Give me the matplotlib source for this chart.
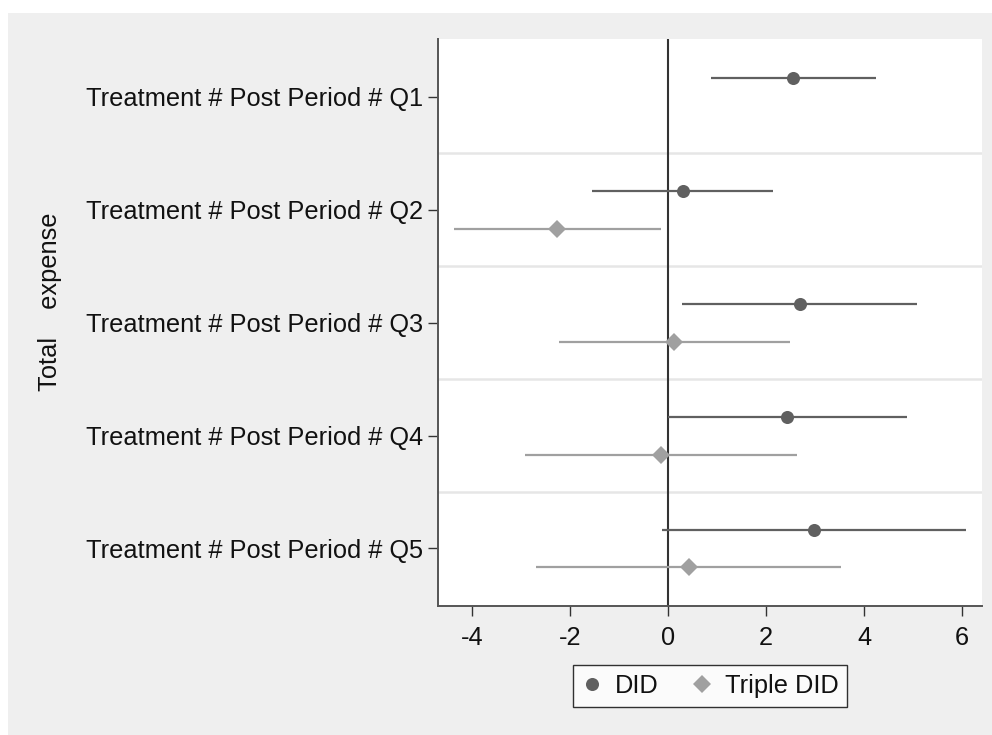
import matplotlib.pyplot as plt
import numpy as np
from matplotlib.lines import Line2D
from matplotlib.patches import Rectangle

plt.rcParams['font.family'] = ['Liberation Sans', 'DejaVu Sans']

labels = ['Treatment # Post Period # Q1', 'Treatment # Post Period # Q2',
          'Treatment # Post Period # Q3', 'Treatment # Post Period # Q4',
          'Treatment # Post Period # Q5']

# DID estimates and 95% CI
did_pos = [1, 2, 3, 4, 5]
did_est = [2.55, 0.31, 2.70, 2.42, 2.97]
did_lo = [0.88, -1.55, 0.28, 0.01, -0.12]
did_hi = [4.25, 2.15, 5.09, 4.87, 6.09]

# Triple DID (no Q1 term)
tri_pos = [2, 3, 4, 5]
tri_est = [-2.26, 0.12, -0.14, 0.42]
tri_lo = [-4.37, -2.22, -2.91, -2.70]
tri_hi = [-0.14, 2.48, 2.64, 3.53]

xticks = [-4, -2, 0, 2, 4, 6]

did_col = '#606060'
tri_col = '#a0a0a0'
bg = '#efefef'
off = 0.168
fs = 18.3

fig = plt.figure(figsize=(9.92, 7.35), dpi=100, facecolor='white')
fig.patches.append(Rectangle((8 / 992, 0), 1, 1 - 13 / 735, transform=fig.transFigure,
                             facecolor=bg, edgecolor='none', zorder=-10))

ax = fig.add_axes([438 / 992, 1 - 605.5 / 735, 544 / 992, 566.2 / 735])
ax.set_facecolor('white')

for y in [1.5, 2.5, 3.5, 4.5]:
    ax.axhline(y, color='#e6e6e6', lw=1.8, zorder=1)
ax.axvline(0, color='#333333', lw=1.5, zorder=2)

y_did = np.array(did_pos) - off
ax.hlines(y_did, did_lo, did_hi, color=did_col, lw=1.6, zorder=3)
ax.plot(did_est, y_did, 'o', color=did_col, ms=9.4, mew=0, zorder=4)

y_tri = np.array(tri_pos) + off
ax.hlines(y_tri, tri_lo, tri_hi, color=tri_col, lw=1.6, zorder=3)
ax.plot(tri_est, y_tri, 'D', color=tri_col, ms=9.2, mew=0, zorder=4)

ax.set_xlim(-4.694, 6.408)
ax.set_ylim(5.505, 0.49)
ax.set_xticks(xticks)
ax.set_xticklabels([str(t) for t in xticks])
ax.set_yticks(did_pos)
ax.set_yticklabels(labels)
ax.tick_params(axis='both', labelsize=fs, length=7, width=1, color='#333333',
               labelcolor='#111111')
ax.tick_params(axis='y', pad=4)
ax.tick_params(axis='x', pad=8)

for s in ['top', 'right']:
    ax.spines[s].set_visible(False)
for s in ['left', 'bottom']:
    ax.spines[s].set_color('#555555')
    ax.spines[s].set_linewidth(1.4)

fig.text(50 / 992, 1 - 301.5 / 735, 'Total    expense', rotation=90,
         fontsize=fs, ha='center', va='center', color='#111111')

handles = [Line2D([], [], ls='none', marker='o', color=did_col, ms=9.4, mew=0),
           Line2D([], [], ls='none', marker='D', color=tri_col, ms=9.2, mew=0)]
leg = fig.legend(handles, ['DID', 'Triple DID'], loc='center',
                 bbox_to_anchor=(710 / 992, 1 - 686 / 735), ncol=2, fontsize=fs,
                 frameon=True, fancybox=False, edgecolor='black',
                 handlelength=0.8, handletextpad=0.5, columnspacing=1.3,
                 borderpad=0.35)
leg.get_frame().set_linewidth(1.0)
for t in leg.get_texts():
    t.set_color('#111111')

fig.savefig('out.png', dpi=100, facecolor=fig.get_facecolor())
